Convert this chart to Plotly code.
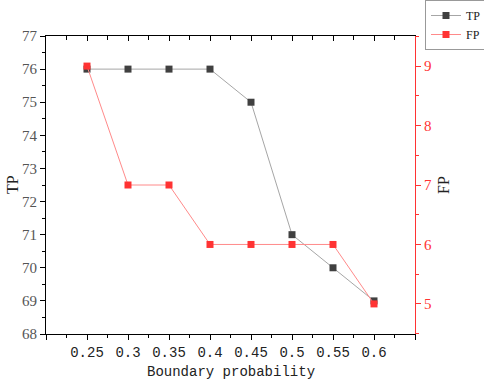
import plotly.graph_objects as go

categories = ["0.25", "0.3", "0.35", "0.4", "0.45", "0.5", "0.55", "0.6"]
tp_values = [76, 76, 76, 76, 75, 71, 70, 69]
fp_values = [9, 7, 7, 6, 6, 6, 6, 5]
tp_ticks = [68, 69, 70, 71, 72, 73, 74, 75, 76, 77]
fp_ticks = [5, 6, 7, 8, 9]

x_vals = [float(c) for c in categories]
x_tickvals = [0.2] + x_vals + [0.65]
x_ticktext = [""] + categories + [""]

RED = "#ff3333"
fig = go.Figure()
fig.add_trace(go.Scatter(
    x=x_vals, y=tp_values, name="TP", mode="lines+markers",
    line=dict(color="#a6a6a6", width=1),
    marker=dict(symbol="square", size=7, color="#404040"),
    yaxis="y"))
fig.add_trace(go.Scatter(
    x=x_vals, y=fp_values, name="FP", mode="lines+markers",
    line=dict(color="#ff8a8a", width=1),
    marker=dict(symbol="square", size=7, color=RED),
    yaxis="y2"))
fig.add_trace(go.Scatter(x=[], y=[], xaxis="x2", yaxis="y", showlegend=False, hoverinfo="skip"))

title_font = dict(family="Liberation Serif", size=16, color="#222")
fig.update_layout(
    width=484, height=383,
    margin=dict(l=46, r=69, t=36, b=49, autoexpand=False),
    paper_bgcolor="white", plot_bgcolor="white",
    showlegend=True,
    legend=dict(x=(425 - 46) / 369, y=(334 - 0) / 298, xanchor="left", yanchor="top",
                bordercolor="#999999", borderwidth=1, bgcolor="white",
                font=dict(family="Liberation Serif", size=12, color="#222"),
                itemwidth=30, tracegroupgap=0),
    xaxis=dict(range=[0.2, 0.65], tickvals=x_tickvals, ticktext=x_ticktext, automargin=False,
               showgrid=False, zeroline=False, showline=True, linecolor="black", linewidth=1,
               ticks="outside", ticklen=5, tickcolor="black",
               minor=dict(dtick=0.025, tick0=0.2, ticks="outside", ticklen=3, tickcolor="black", showgrid=False),
               tickfont=dict(family="Liberation Mono", size=14, color="#222")),
    xaxis2=dict(range=[0.2, 0.65], overlaying="x", side="top", anchor="y", automargin=False,
                tickvals=x_tickvals, showticklabels=False,
                showgrid=False, zeroline=False, showline=True, linecolor="black", linewidth=1,
                ticks="inside", ticklen=5, tickcolor="black",
                minor=dict(dtick=0.025, tick0=0.2, ticks="inside", ticklen=4, tickcolor="black", showgrid=False)),
    yaxis=dict(range=[68, 77], tickvals=tp_ticks, automargin=False,
               showgrid=False, zeroline=False, showline=True, linecolor="black", linewidth=1,
               ticks="outside", ticklen=5, tickcolor="black",
               minor=dict(dtick=0.5, tick0=68, ticks="outside", ticklen=3, tickcolor="black", showgrid=False),
               tickfont=dict(family="Liberation Serif", size=15, color="#555555")),
    yaxis2=dict(range=[4.494, 9.506], tickvals=fp_ticks, overlaying="y", side="right", anchor="x",
                automargin=False,
                showgrid=False, zeroline=False, showline=True, linecolor=RED, linewidth=1,
                ticks="outside", ticklen=5, tickcolor=RED,
                minor=dict(dtick=0.5, tick0=4.5, ticks="outside", ticklen=3, tickcolor=RED, showgrid=False),
                tickfont=dict(family="Liberation Serif", size=15, color=RED)),
    annotations=[
        dict(text="Boundary probability", xref="paper", yref="paper", x=0.5, y=0,
             xanchor="center", yanchor="middle", yshift=-38, showarrow=False,
             font=dict(family="Liberation Mono", size=14, color="#222")),
        dict(text="TP", xref="paper", yref="paper", x=0, y=0.5, textangle=-90,
             xanchor="center", yanchor="middle", xshift=-34, showarrow=False, font=title_font),
        dict(text="FP", xref="paper", yref="paper", x=1, y=0.5, textangle=-90,
             xanchor="center", yanchor="middle", xshift=28, showarrow=False, font=title_font),
    ],
)

fig.write_html("out.html", config={"displayModeBar": False},
               post_script="document.body.style.margin='0';document.body.style.overflow='hidden';")
